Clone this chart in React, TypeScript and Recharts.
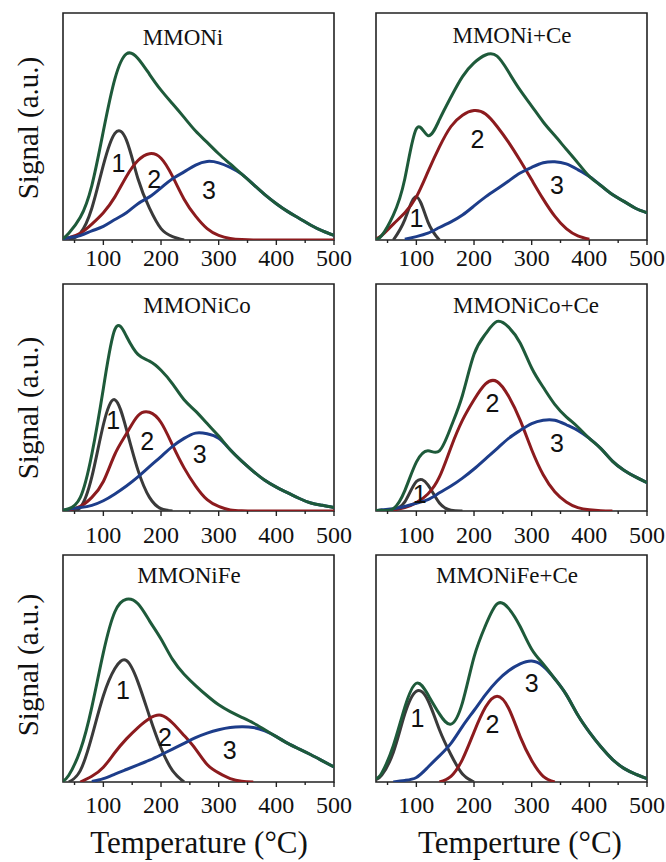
import { LineChart, Line, XAxis, YAxis, ReferenceArea, ReferenceDot } from 'recharts';

const N = null;

// temperature grid (°C) shared by all panels
const temps = [30, 40, 60, 80, 100, 120, 140, 160, 180, 200, 220, 240, 260, 280, 300, 320, 340, 360, 380, 400, 420, 440, 460, 480, 500];

// MMONi
const ni1 = [N, 0, 3, 14, 33, 47, 44, 27, 14, 5, 1.5, 0, N, N, N, N, N, N, N, N, N, N, N, N, N];
const ni2 = [0.3, 1, 3, 7, 12, 19, 28, 35, 38, 36, 28, 18, 10.5, 5, 2, 0.7, 0.2, 0, 0, 0, 0, 0, 0, 0, 0];
const ni3 = [0.3, 1, 2, 4, 6, 9, 12, 16, 19, 23, 27, 30, 33, 34.6, 34, 32, 29, 24.5, 20, 16, 12.5, 9.5, 6.5, 4, 2];
const niSum = [0.5, 3, 10, 24, 48, 71, 82, 80, 73, 66, 60, 54, 48, 43, 38, 33.5, 29, 24.5, 20, 16, 12.5, 9.5, 6.5, 4, 2];

// MMONi+Ce
const niCe1 = [N, N, 0, 9, 19, 8, 0, N, N, N, N, N, N, N, N, N, N, N, N, N, N, N, N, N, N];
const niCe2 = [0.5, 2, 7, 12, 19, 30, 41, 50, 55, 57, 55.5, 50, 43, 35, 26.5, 18, 10.5, 5, 1.8, 0.3, N, N, N, N, N];
const niCe3 = [N, N, N, 0.3, 1.5, 3, 5.5, 8, 11, 15, 19, 22.5, 26, 29.5, 32, 34, 34.5, 33.5, 31, 28, 24, 20, 17, 14, 12];
const niCeSum = [0.5, 2, 11, 27, 49, 46, 53, 63, 72, 78, 81.5, 81, 74, 66, 59, 52, 46, 40, 34, 28, 24, 20, 17, 14, 12];

// MMONiCo
const co1 = [N, 0, 1.5, 15, 38, 49, 36, 18, 6, 1, 0, N, N, N, N, N, N, N, N, N, N, N, N, N, N];
const co2 = [0.2, 0.5, 2, 6, 13, 25, 34, 42, 43.5, 39, 29, 19, 11, 5, 2, 0.5, 0.1, 0, 0, 0, 0, 0, 0, 0, 0];
const co3 = [0.3, 0.8, 1.5, 2.5, 4.5, 7.5, 11, 15, 19.5, 24, 28.5, 32, 34.3, 34, 32, 27, 22, 17.5, 13.5, 10.5, 8, 5.5, 3.5, 2.5, 1.5];
const coSum = [0.3, 1, 6, 25, 54, 80, 77, 69, 66, 62, 56, 49, 44, 38.5, 33, 27, 22, 17.5, 13.5, 10.5, 8, 5.5, 3.5, 2.5, 1.5];

// MMONiCo+Ce
const coCe1 = [N, N, 0.3, 4, 13, 11.5, 3.5, 0.3, 0, N, N, N, N, N, N, N, N, N, N, N, N, N, N, N, N];
const coCe2 = [0, 0, 0.5, 1.5, 3.7, 7.5, 15, 28, 40, 49, 56, 57, 50.5, 40, 27, 16, 8.5, 4, 1.5, 0.5, 0.1, 0, N, N, N];
const coCe3 = [0, 0.5, 1, 2, 3.4, 5, 8, 11, 14.5, 18.5, 23, 27.5, 32, 35.5, 38.5, 40, 40, 38, 35.5, 32, 27.5, 22, 18, 15, 12.5];
const coCeSum = [0.2, 0.3, 1, 9, 21.5, 26.5, 26.5, 37, 51, 69, 78, 83.5, 81, 74, 63, 54.5, 47, 41.5, 37, 32, 27.5, 22, 18, 15, 12.5];

// MMONiFe
const fe1 = [N, 0, 5, 20, 38, 50, 53.5, 44, 29, 15, 5, 0, N, N, N, N, N, N, N, N, N, N, N, N, N];
const fe2 = [N, N, 0, 2.5, 6.5, 13, 19, 24, 28, 29.4, 26, 20.5, 14.5, 7.7, 4, 1.5, 0.3, 0, N, N, N, N, N, N, N];
const fe3 = [N, N, N, 0.2, 1.5, 3.5, 5.5, 7.5, 9.6, 12, 14.5, 17, 19.5, 21.5, 23, 24, 24.3, 24, 22.5, 20, 17, 14.5, 12, 9.3, 6.6];
const feSum = [0.5, 3, 14, 33, 57, 75, 80.5, 78.5, 71, 63, 54, 47.5, 42.5, 38, 34, 31, 28.5, 26, 23, 20, 17, 14.5, 12, 9.3, 6.6];

// MMONiFe+Ce
const feCe1 = [1, 3, 13, 30, 40, 36, 23, 12, 3.5, 0, N, N, N, N, N, N, N, N, N, N, N, N, N, N, N];
const feCe2 = [N, N, N, N, N, N, 0, 2.5, 10, 22, 33, 37.8, 32.5, 20, 9.5, 2.5, 0, N, N, N, N, N, N, N, N];
const feCe3 = [N, N, 0, 0.7, 2, 6.5, 11.5, 17, 24.5, 31.5, 38.5, 44.5, 49, 52, 53.3, 51, 45.5, 38.5, 29.5, 22, 15.5, 10, 6, 3.5, 1.5];
const feCeSum = [1.5, 4, 16, 33, 43.5, 38.5, 30, 25.5, 35, 55, 69, 78.5, 76.5, 68.5, 58.5, 52, 45.5, 38.5, 29.5, 22, 15.5, 10, 6, 3.5, 1.5];

// peak number labels: temperature and signal where "1", "2", "3" sit
const niLabelT = [126, 188, 283];
const niLabelV = [34, 27, 22];
const niCeLabelT = [100, 206, 344];
const niCeLabelV = [9.5, 44.5, 24];
const coLabelT = [117, 176, 267];
const coLabelV = [40, 31, 25];
const coCeLabelT = [106, 232, 344];
const coCeLabelV = [7.5, 47.5, 30];
const feLabelT = [134, 207, 319];
const feLabelV = [40.5, 19.8, 14];
const feCeLabelT = [102, 232, 300];
const feCeLabelV = [28, 25.5, 43.5];

const xTicks = [50, 100, 150, 200, 250, 300, 350, 400, 450, 500];

const SERIF = '"Liberation Serif", "Times New Roman", serif';
const SANS = '"Liberation Sans", Arial, sans-serif';
const C1 = '#3a3a3a';
const C2 = '#8c1b1e';
const C3 = '#1d3d8a';
const CSUM = '#1e5a3a';

const PLOT_W = 271;
const PLOT_H = 227;

const panels = [
  { name: 'MMONi', left: 63, top: 13, labelDy: 26, s: [ni1, ni2, ni3, niSum], lt: niLabelT, lv: niLabelV, tx: 183, ty: 45 },
  { name: 'MMONi+Ce', left: 376, top: 13, labelDy: 26, s: [niCe1, niCe2, niCe3, niCeSum], lt: niCeLabelT, lv: niCeLabelV, tx: 512, ty: 43 },
  { name: 'MMONiCo', left: 63, top: 284, labelDy: 32, s: [co1, co2, co3, coSum], lt: coLabelT, lv: coLabelV, tx: 197, ty: 313 },
  { name: 'MMONiCo+Ce', left: 376, top: 284, labelDy: 32, s: [coCe1, coCe2, coCe3, coCeSum], lt: coCeLabelT, lv: coCeLabelV, tx: 526, ty: 313 },
  { name: 'MMONiFe', left: 63, top: 555, labelDy: 31, s: [fe1, fe2, fe3, feSum], lt: feLabelT, lv: feLabelV, tx: 189, ty: 583 },
  { name: 'MMONiFe+Ce', left: 376, top: 555, labelDy: 31, s: [feCe1, feCe2, feCe3, feCeSum], lt: feCeLabelT, lv: feCeLabelV, tx: 507, ty: 583 },
];

const makeTick = (labelDy: number) => ({ x, y, payload }: any) => {
  const major = payload.value % 100 === 0;
  return (
    <g>
      <line x1={x} x2={x} y1={y} y2={y + (major ? 5 : 3)} stroke="#222" strokeWidth={1.4} />
      {major && (
        <text x={x} y={y + labelDy} textAnchor="middle" fontSize={24} fontFamily={SERIF} fill="#111">
          {payload.value}
        </text>
      )}
    </g>
  );
};

const Panel = ({ p }: any) => {
  const data = temps.map((t, i) => ({ t, p1: p.s[0][i], p2: p.s[1][i], p3: p.s[2][i], sum: p.s[3][i] }));
  return (
    <div style={{ position: 'absolute', left: p.left - 5, top: p.top - 5 }}>
      <LineChart width={PLOT_W + 27} height={PLOT_H + 43} data={data} margin={{ top: 5, right: 22, left: 5, bottom: 2 }}>
        <XAxis
          dataKey="t"
          type="number"
          domain={[30, 500]}
          ticks={xTicks}
          allowDataOverflow
          axisLine={false}
          tickLine={false}
          tickSize={0}
          tickMargin={0}
          height={36}
          interval={0}
          tick={makeTick(p.labelDy)}
        />
        <YAxis hide domain={[0, 100]} allowDataOverflow />
        <Line type="natural" dataKey="p1" stroke={C1} strokeWidth={3} dot={false} isAnimationActive={false} />
        <Line type="natural" dataKey="p2" stroke={C2} strokeWidth={3} dot={false} isAnimationActive={false} />
        <Line type="natural" dataKey="p3" stroke={C3} strokeWidth={3} dot={false} isAnimationActive={false} />
        <Line type="natural" dataKey="sum" stroke={CSUM} strokeWidth={3} dot={false} isAnimationActive={false} />
        <ReferenceArea x1={30} x2={500} y1={0} y2={100} fill="none" stroke="#222" strokeWidth={1.6} />
        {p.lt.map((t: number, i: number) => (
          <ReferenceDot
            key={i}
            x={t}
            y={p.lv[i]}
            r={1}
            fill="none"
            stroke="none"
            label={{ value: String(i + 1), position: 'center', fontSize: 25, fill: '#111', fontFamily: SANS }}
          />
        ))}
      </LineChart>
    </div>
  );
};

export default function App() {
  return (
    <div style={{ position: 'absolute', left: 0, top: 0, width: 666, height: 862, background: '#fff' }}>
      <svg width={666} height={862} style={{ position: 'absolute', left: 0, top: 0 }}>
        {[128, 408, 665].map((cy) => (
          <text key={cy} transform={`translate(38,${cy}) rotate(-90)`} textAnchor="middle" fontSize={29} fontFamily={SERIF} fill="#111">
            Signal (a.u.)
          </text>
        ))}
        {panels.map((p) => (
          <text key={p.name} x={p.tx} y={p.ty} textAnchor="middle" fontSize={23} fontFamily={SERIF} fill="#111">
            {p.name}
          </text>
        ))}
        <text x={199} y={853} textAnchor="middle" fontSize={31} fontFamily={SERIF} fill="#111">Temperature (°C)</text>
        <text x={520} y={853} textAnchor="middle" fontSize={31} fontFamily={SERIF} fill="#111">Temperture (°C)</text>
      </svg>
      {panels.map((p) => (
        <Panel key={p.name} p={p} />
      ))}
    </div>
  );
}
